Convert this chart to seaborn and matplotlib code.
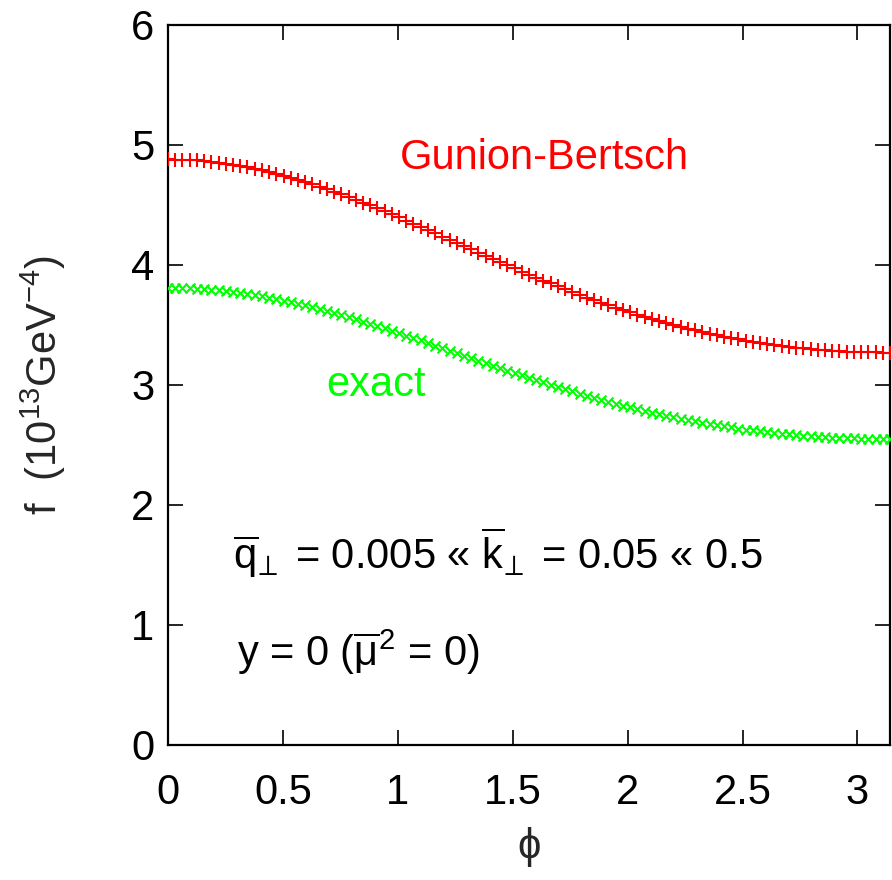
import numpy as np
import pandas as pd
import matplotlib
matplotlib.use("Agg")
import matplotlib.pyplot as plt
import seaborn as sns

# sampling grid in phi (0..pi, 101 points)
phi = np.linspace(0, np.pi, 101)

gunion_bertsch = [
    4.880, 4.879, 4.878, 4.875, 4.871, 4.866, 4.860, 4.853, 4.845, 4.836,
    4.826, 4.815, 4.802, 4.789, 4.775, 4.760, 4.744, 4.728, 4.710, 4.692,
    4.673, 4.653, 4.632, 4.611, 4.589, 4.567, 4.544, 4.520, 4.496, 4.472,
    4.447, 4.421, 4.396, 4.370, 4.344, 4.317, 4.291, 4.264, 4.237, 4.211,
    4.184, 4.157, 4.130, 4.103, 4.076, 4.050, 4.023, 3.997, 3.971, 3.945,
    3.920,
    3.895, 3.870, 3.846, 3.822, 3.798, 3.775, 3.752, 3.729, 3.707,
    3.686, 3.665, 3.645, 3.625, 3.605, 3.587, 3.568, 3.550, 3.533, 3.516,
    3.500, 3.485, 3.470, 3.455, 3.442, 3.428, 3.416, 3.403, 3.392, 3.381,
    3.370, 3.360, 3.351, 3.342, 3.334, 3.326, 3.319, 3.312, 3.306, 3.300,
    3.295, 3.290, 3.286, 3.282, 3.279, 3.276, 3.274, 3.272, 3.271, 3.270, 3.270,
]

exact = [
    3.810, 3.810, 3.808, 3.806, 3.803, 3.799, 3.795, 3.789, 3.783, 3.776,
    3.768, 3.759, 3.750, 3.739, 3.728, 3.717, 3.704, 3.691, 3.677, 3.663,
    3.648, 3.633, 3.617, 3.600, 3.583, 3.565, 3.548, 3.529, 3.510, 3.491,
    3.472, 3.452, 3.432, 3.412, 3.391, 3.371, 3.350, 3.329, 3.308, 3.287,
    3.266, 3.245, 3.224, 3.203, 3.182, 3.161, 3.141, 3.120, 3.100, 3.080,
    3.060,
    3.040, 3.021, 3.002, 2.983, 2.964, 2.946, 2.928, 2.911, 2.894,
    2.877, 2.860, 2.844, 2.829, 2.814, 2.799, 2.784, 2.770, 2.757, 2.744,
    2.731, 2.719, 2.707, 2.696, 2.685, 2.675, 2.665, 2.655, 2.646, 2.637,
    2.629, 2.621, 2.614, 2.607, 2.600, 2.594, 2.588, 2.583, 2.578, 2.573,
    2.569, 2.566, 2.562, 2.559, 2.557, 2.555, 2.553, 2.552, 2.551, 2.550, 2.550,
]

x_ticks = [0, 0.5, 1, 1.5, 2, 2.5, 3]
x_tick_labels = ["0", "0.5", "1", "1.5", "2", "2.5", "3"]
y_ticks = [0, 1, 2, 3, 4, 5, 6]
y_tick_labels = ["0", "1", "2", "3", "4", "5", "6"]

df_gb = pd.DataFrame({"phi": phi, "f": gunion_bertsch})
df_ex = pd.DataFrame({"phi": phi, "f": exact})

sns.set_theme(style="ticks")
plt.rcParams["font.family"] = ["Liberation Sans", "DejaVu Sans"]
plt.rcParams["mathtext.fontset"] = "custom"
plt.rcParams["mathtext.rm"] = "Liberation Sans"
plt.rcParams["mathtext.it"] = "Liberation Sans"
plt.rcParams["mathtext.sf"] = "Liberation Sans"
plt.rcParams["mathtext.fallback"] = "stix"
plt.rcParams["axes.unicode_minus"] = False

fig = plt.figure(figsize=(8.92, 8.80), dpi=100)
ax = fig.add_axes([168 / 892, 1 - 745 / 880, (890 - 168) / 892, (745 - 25) / 880])

RED = "#ff0000"
GREEN = "#00ff00"

sns.scatterplot(data=df_gb, x="phi", y="f", marker="+", color=RED, s=110,
                linewidth=1.5, ax=ax, zorder=3)
sns.scatterplot(data=df_ex, x="phi", y="f", marker="x", color=GREEN, s=50,
                linewidth=1.5, ax=ax, zorder=3)

ax.set_xlim(0, np.pi)
ax.set_ylim(0, 6)
ax.set_xticks(x_ticks)
ax.set_xticklabels(x_tick_labels)
ax.set_yticks(y_ticks)
ax.set_yticklabels(y_tick_labels)

FS = 30
ax.tick_params(axis="both", which="major", direction="in", length=11, width=1.2,
               labelsize=FS, top=True, right=True, colors="black")
ax.tick_params(axis="x", pad=20)
ax.tick_params(axis="y", pad=10)
for sp in ax.spines.values():
    sp.set_visible(True)
    sp.set_linewidth(1.6)
    sp.set_color("black")

ax.set_xlabel("\u03d5", fontsize=FS, labelpad=10)
ax.set_ylabel(r"f  (10$^{13}$GeV$^{\mathrm{-4}}$)", fontsize=FS, labelpad=45)

ax.text(1.009, 4.89, "Gunion-Bertsch", color=RED, fontsize=FS,
        ha="left", va="center")
ax.text(0.69, 3.0, "exact", color=GREEN, fontsize=FS, ha="left", va="center")
ax.text(0.283, 1.6,
        r"$\overline{\mathrm{q}}_{\!\perp}$ = 0.005 « $\overline{\mathrm{k}}_{\!\perp}$ = 0.05 « 0.5",
        fontsize=FS, ha="left", va="center", color="black")
ax.text(0.30, 0.77, r"y = 0 ($\overline{\mathrm{\mu}}^{2}$ = 0)",
        fontsize=FS, ha="left", va="center", color="black")

fig.savefig("out.png", dpi=100, facecolor="white")
